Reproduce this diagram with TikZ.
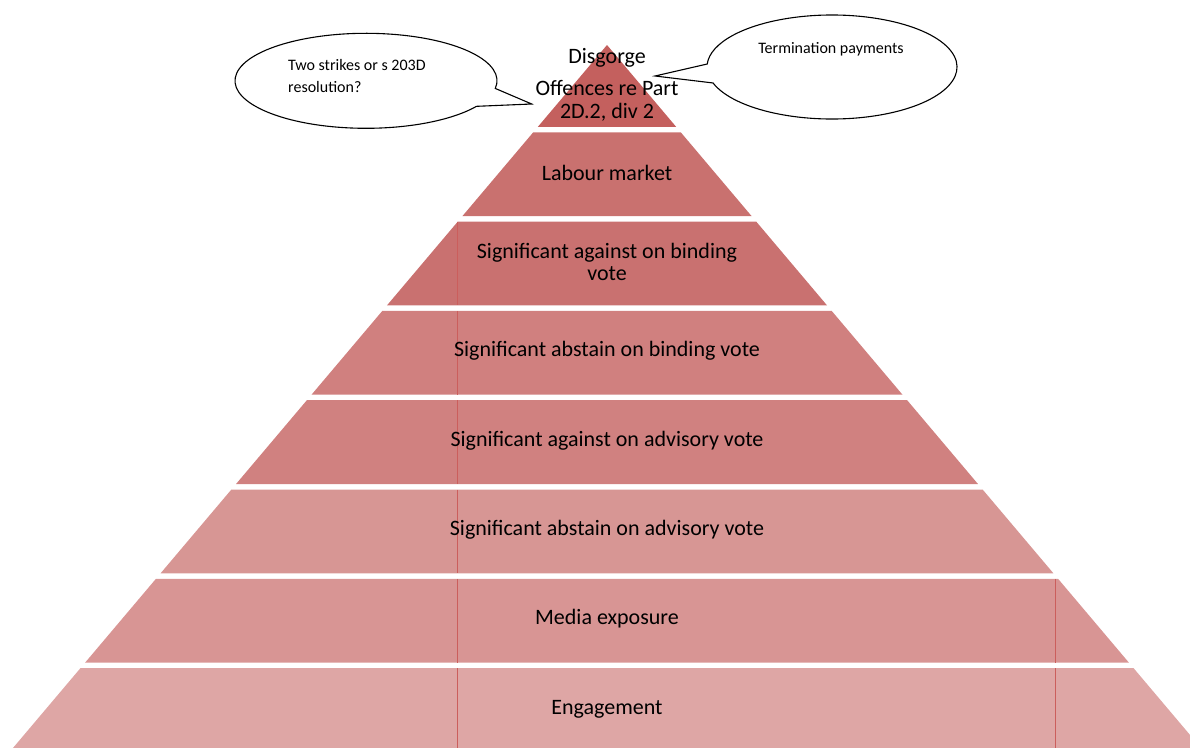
\documentclass[tikz,border=0pt]{standalone}
\usepackage{fontspec}
\setmainfont{Carlito}
\definecolor{bandA}{HTML}{C4605E}
\definecolor{bandB}{HTML}{C9716F}
\definecolor{bandC}{HTML}{C97170}
\definecolor{bandD}{HTML}{D0807F}
\definecolor{bandE}{HTML}{D08180}
\definecolor{bandF}{HTML}{D79694}
\definecolor{bandG}{HTML}{D89594}
\definecolor{bandH}{HTML}{DEA6A5}
\definecolor{seamred}{HTML}{CB5E5C}
\begin{document}
\begin{tikzpicture}[x=1pt,y=1pt,
  lbl/.style={anchor=base, font=\fontsize{22}{24}\selectfont, text=black, inner sep=0pt},
  cl/.style={font=\fontsize{16}{18}\selectfont, text=black, inner sep=0pt},
  callout/.style={draw=black, line width=1.1pt, fill=white, line join=miter},
  seam/.style={draw=seamred, line width=0.7pt}]
\useasboundingbox (0,0) rectangle (1190,-747);
\clip (0,0) rectangle (1190,-747);
% pyramid bands
\foreach \ty/\by/\cc in {45/126.8/bandA, 132.3/216.1/bandB, 221.6/305.4/bandC,
  310.9/394.7/bandD, 400.2/484.0/bandE, 489.5/573.3/bandF, 578.8/662.6/bandG,
  668.1/751.9/bandH}{
  \pgfmathsetmacro\xlt{607-0.845*(\ty-45)}
  \pgfmathsetmacro\xrt{607+0.845*(\ty-45)}
  \pgfmathsetmacro\xlb{607-0.845*(\by-45)}
  \pgfmathsetmacro\xrb{607+0.845*(\by-45)}
  \fill[\cc] (\xlt,-\ty) -- (\xrt,-\ty) -- (\xrb,-\by) -- (\xlb,-\by) -- cycle;
}
% thin seams
\foreach \ty/\by in {221.6/305.4, 310.9/394.7, 400.2/484.0, 489.5/573.3, 578.8/662.6, 668.1/751.9}{
  \draw[seam] (457,-\ty) -- (457,-\by);
}
\foreach \ty/\by in {578.8/662.6, 668.1/751.9}{
  \draw[seam] (1055,-\ty) -- (1055,-\by);
}
% callouts
\coordinate (tipL) at (531.7,-104);
\coordinate (tipR) at (655,-76);
\draw[callout] (366,-80.8) ++(-9.26:131pt and 47.5pt)
  arc[start angle=-9.26, end angle=327.5, x radius=131pt, y radius=47.5pt] -- (tipL) -- cycle;
\draw[callout] (832,-67) ++(197.9:125pt and 52pt)
  arc[start angle=197.9, end angle=536.7, x radius=125pt, y radius=52pt] -- (tipR) -- cycle;
% labels
\node[lbl] (t1a) at (607,-63.3) {Disgorge};
\node[lbl] (t1b) at (607,-95) {Offences re Part};
\node[lbl] (t1c) at (607,-118.3) {2D.2, div 2};
\node[lbl] (t2) at (607,-180) {Labour market};
\node[lbl] (t3a) at (607,-258.3) {Significant against on binding};
\node[lbl] (t3b) at (607,-280) {vote};
\node[lbl] (t4) at (607,-356.7) {Significant abstain on binding vote};
\node[lbl] (t5) at (607,-446) {Significant against on advisory vote};
\node[lbl] (t6) at (607,-535.3) {Significant abstain on advisory vote};
\node[lbl] (t7) at (607,-624.6) {Media exposure};
\node[lbl] (t8) at (607,-714) {Engagement};
\node[cl, anchor=base west] (c1a) at (288,-70.7) {Two strikes or s 203D};
\node[cl, anchor=base west] (c1b) at (288,-92.7) {resolution?};
\node[cl, anchor=base] (c2) at (831,-53.3) {Termination payments};
\end{tikzpicture}
\end{document}
